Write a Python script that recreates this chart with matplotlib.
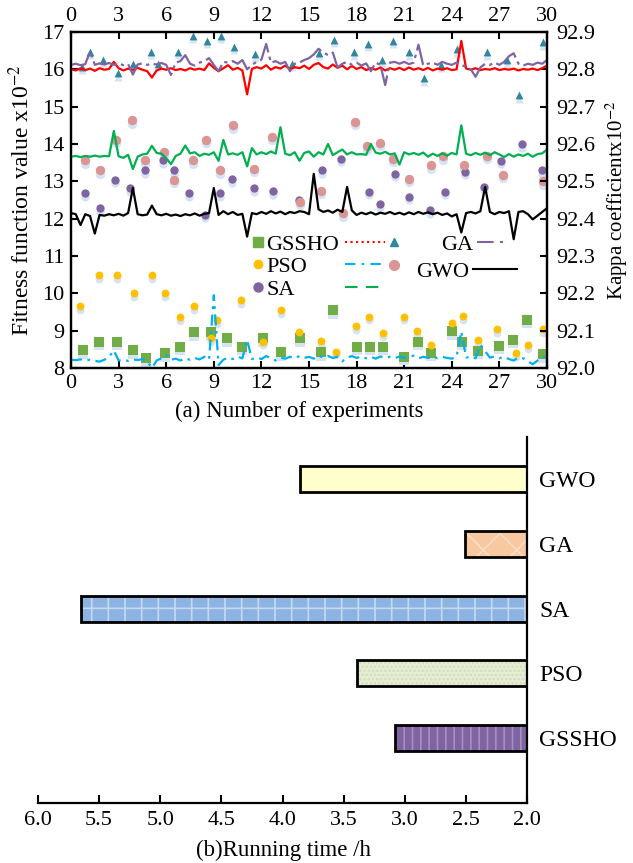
import numpy as np
import matplotlib
matplotlib.use("Agg")
import matplotlib.pyplot as plt
from matplotlib.lines import Line2D
from matplotlib.transforms import offset_copy

plt.rcParams['font.family'] = 'Liberation Serif'
plt.rcParams['mathtext.fontset'] = 'stix'
plt.rcParams['hatch.linewidth'] = 1.2

# ---- (a) fitness scatter (left axis, x10^-2) ----
gssho_x = [0.74, 1.78, 2.88, 3.93, 4.7, 5.92, 6.87, 7.75, 8.8, 9.81, 10.75, 12.12, 13.21, 14.43, 15.75,
           16.49, 18.0, 18.84, 19.68, 21.0, 21.84, 22.66, 23.99, 24.66, 25.63, 27.0, 27.87, 28.73, 29.76]
gssho_fit = [8.48, 8.7, 8.7, 8.48, 8.26, 8.39, 8.57, 8.96, 8.96, 8.8, 8.57, 8.8, 8.42, 8.8, 8.42,
             9.55, 8.57, 8.57, 8.57, 8.3, 8.7, 8.41, 8.99, 8.7, 8.46, 8.6, 8.75, 9.29, 8.37]

pso_x = [0.57, 1.74, 2.88, 3.97, 5.08, 5.9, 6.87, 7.77, 8.8, 9.22, 10.73, 12.12, 13.21, 14.4, 15.75,
         16.68, 17.94, 18.8, 19.64, 21.0, 21.82, 22.66, 23.99, 24.68, 25.67, 26.86, 28.02, 28.78, 29.76]
pso_fit = [9.66, 10.49, 10.49, 10.0, 10.49, 10.0, 9.36, 9.66, 8.8, 9.28, 9.82, 8.7, 9.55, 8.96, 8.72,
           8.44, 9.12, 9.37, 8.93, 9.37, 8.99, 8.61, 9.2, 9.39, 8.75, 9.04, 8.39, 8.61, 9.04]

sa_x = [0.88, 1.83, 2.77, 3.71, 4.66, 5.82, 6.49, 7.45, 8.44, 9.39, 10.12, 11.53, 12.75, 14.39,
        15.8, 17.0, 18.8, 19.45, 20.4, 21.3, 22.6, 23.57, 24.83, 26.0, 27.1, 28.4, 29.7]
sa_fit = [12.68, 12.28, 13.04, 12.82, 13.3, 13.57, 13.3, 12.68, 12.1, 12.68, 13.05, 12.82, 12.73, 12.5,
          13.3, 13.6, 12.72, 12.38, 13.2, 12.59, 12.23, 12.72, 13.25, 12.86, 13.55, 13.99, 13.3]

ga_x = [0.67, 1.2, 2.04, 2.96, 3.9, 5.02, 5.5, 6.72, 7.66, 8.55, 9.43, 10.3, 11.6, 13.9, 15.6,
        16.57, 17.83, 18.7, 19.57, 20.27, 21.28, 22.27, 23.3, 24.3, 26.2, 27.45, 28.23, 29.72]
ga_fit = [16.07, 16.47, 16.25, 15.89, 16.15, 16.47, 16.15, 16.47, 16.9, 16.77, 16.9, 16.6, 16.4, 16.15, 16.45,
          16.79, 16.46, 16.68, 16.25, 16.77, 16.46, 15.76, 16.12, 16.54, 16.46, 16.24, 15.31, 16.73]

gwo_x = [0.88, 1.83, 2.84, 3.82, 4.66, 5.86, 6.51, 7.71, 8.51, 9.39, 10.19, 11.53, 12.64, 14.43,
         15.75, 17.16, 17.9, 18.63, 19.47, 20.3, 21.3, 22.66, 23.46, 24.76, 26.2, 27.2, 29.76]
gwo_fit = [13.57, 13.3, 14.11, 14.64, 13.57, 13.78, 13.04, 13.57, 14.11, 13.3, 14.5, 13.34, 14.2, 12.45,
           12.75, 12.15, 14.6, 13.94, 14.03, 13.6, 13.07, 13.43, 13.67, 13.43, 13.69, 13.18, 13.0]

# ---- (a) kappa curves (right axis, x10^-2), 101 samples over 0..30 ----
gssho_kappa = [
    92.800, 92.797, 92.803, 92.798, 92.802, 92.796, 92.803, 92.799, 92.801, 92.820,
    92.803, 92.797, 92.802, 92.798, 92.804, 92.799, 92.795, 92.778, 92.797, 92.802,
    92.799, 92.803, 92.798, 92.801, 92.797, 92.803, 92.799, 92.802, 92.798, 92.816,
    92.804, 92.795, 92.803, 92.811, 92.799, 92.804, 92.797, 92.733, 92.801, 92.806,
    92.802, 92.811, 92.799, 92.806, 92.802, 92.810, 92.800, 92.806, 92.803, 92.810,
    92.801, 92.812, 92.817, 92.806, 92.802, 92.813, 92.804, 92.810, 92.800, 92.809,
    92.801, 92.806, 92.798, 92.803, 92.799, 92.805, 92.797, 92.803, 92.799, 92.804,
    92.798, 92.805, 92.799, 92.803, 92.798, 92.804, 92.797, 92.802, 92.799, 92.803,
    92.798, 92.800, 92.876, 92.802, 92.799, 92.803, 92.798, 92.801, 92.799, 92.803,
    92.798, 92.801, 92.799, 92.802, 92.797, 92.801, 92.799, 92.802, 92.798, 92.803, 92.810]

pso_kappa = [
    92.022, 92.021, 92.023, 92.020, 92.022, 92.019, 92.017, 92.022, 92.030, 92.047,
    92.020, 92.022, 92.019, 92.023, 92.021, 92.024, 92.018, 92.000, 92.020, 92.026,
    92.035, 92.022, 92.025, 92.020, 92.026, 92.022, 92.027, 92.023, 92.030, 92.022,
    92.195, 92.008, 92.022, 92.028, 92.024, 92.030, 92.026, 92.075, 92.024, 92.028,
    92.024, 92.032, 92.026, 92.020, 92.028, 92.025, 92.030, 92.026, 92.032, 92.027,
    92.030, 92.025, 92.033, 92.028, 92.032, 92.027, 92.030, 92.018, 92.028, 92.032,
    92.027, 92.031, 92.026, 92.030, 92.025, 92.031, 92.027, 92.030, 92.026, 92.031,
    92.027, 92.030, 92.033, 92.026, 92.030, 92.027, 92.031, 92.026, 92.030, 92.027,
    92.025, 92.030, 92.098, 92.028, 92.030, 92.026, 92.062, 92.045, 92.028, 92.031,
    92.026, 92.030, 92.024, 92.020, 92.028, 92.026, 92.018, 92.010, 92.020, 92.028, 92.032]

sa_kappa = [
    92.566, 92.568, 92.565, 92.568, 92.566, 92.569, 92.566, 92.568, 92.567, 92.635,
    92.567, 92.563, 92.571, 92.533, 92.566, 92.572, 92.574, 92.595, 92.576, 92.574,
    92.562, 92.546, 92.568, 92.574, 92.596, 92.575, 92.578, 92.568, 92.574, 92.571,
    92.578, 92.555, 92.611, 92.572, 92.575, 92.571, 92.578, 92.540, 92.589, 92.572,
    92.578, 92.573, 92.580, 92.574, 92.645, 92.574, 92.570, 92.578, 92.555, 92.576,
    92.580, 92.566, 92.578, 92.572, 92.600, 92.570, 92.578, 92.585, 92.572, 92.578,
    92.572, 92.573, 92.571, 92.600, 92.577, 92.574, 92.579, 92.572, 92.575, 92.545,
    92.578, 92.572, 92.576, 92.571, 92.577, 92.566, 92.574, 92.568, 92.575, 92.569,
    92.576, 92.572, 92.650, 92.574, 92.570, 92.576, 92.571, 92.577, 92.570, 92.578,
    92.572, 92.565, 92.573, 92.566, 92.572, 92.568, 92.574, 92.566, 92.573, 92.575, 92.585]

ga_kappa = [
    92.812, 92.815, 92.811, 92.814, 92.848, 92.812, 92.816, 92.813, 92.817, 92.812,
    92.816, 92.811, 92.814, 92.786, 92.813, 92.816, 92.812, 92.815, 92.813, 92.817,
    92.812, 92.785, 92.818, 92.822, 92.838, 92.815, 92.810, 92.818, 92.822, 92.830,
    92.812, 92.795, 92.820, 92.818, 92.822, 92.815, 92.825, 92.800, 92.812, 92.820,
    92.826, 92.868, 92.818, 92.822, 92.815, 92.820, 92.795, 92.815, 92.818, 92.825,
    92.830, 92.840, 92.855, 92.845, 92.838, 92.845, 92.805, 92.815, 92.820, 92.812,
    92.818, 92.810, 92.816, 92.795, 92.818, 92.812, 92.758, 92.818, 92.820, 92.815,
    92.820, 92.814, 92.818, 92.866, 92.810, 92.815, 92.818, 92.812, 92.820, 92.815,
    92.812, 92.818, 92.812, 92.806, 92.800, 92.780, 92.805, 92.815, 92.812, 92.818,
    92.812, 92.820, 92.835, 92.843, 92.815, 92.810, 92.815, 92.812, 92.818, 92.815, 92.825]

gwo_kappa = [
    92.415, 92.412, 92.383, 92.412, 92.407, 92.360, 92.410, 92.408, 92.412, 92.409,
    92.413, 92.408, 92.415, 92.482, 92.412, 92.409, 92.411, 92.435, 92.412, 92.409,
    92.413, 92.408, 92.411, 92.407, 92.412, 92.409, 92.414, 92.408, 92.413, 92.415,
    92.482, 92.410, 92.420, 92.412, 92.418, 92.410, 92.413, 92.352, 92.415, 92.412,
    92.418, 92.413, 92.420, 92.414, 92.419, 92.412, 92.418, 92.415, 92.420, 92.418,
    92.412, 92.520, 92.425, 92.418, 92.422, 92.416, 92.424, 92.418, 92.485, 92.422,
    92.410, 92.416, 92.412, 92.417, 92.411, 92.416, 92.413, 92.418, 92.412, 92.416,
    92.411, 92.417, 92.412, 92.418, 92.413, 92.417, 92.412, 92.416, 92.410, 92.414,
    92.406, 92.412, 92.363, 92.415, 92.418, 92.414, 92.420, 92.485, 92.418, 92.412,
    92.418, 92.415, 92.420, 92.345, 92.418, 92.420, 92.412, 92.398, 92.408, 92.418, 92.428]

# ---- (b) running time ----
algorithms = ['GSSHO', 'PSO', 'SA', 'GA', 'GWO']
run_time = [3.08, 3.39, 5.65, 2.51, 3.86]

W, H = 633, 863
fig = plt.figure(figsize=(W / 100, H / 100), dpi=100)


def fig_box(x0, y0, x1, y1):
    return [x0 / W, 1 - y1 / H, (x1 - x0) / W, (y1 - y0) / H]


ax = fig.add_axes(fig_box(71, 32, 547, 368))
ax2 = ax.twinx()

shadow = offset_copy(ax.transData, fig=fig, x=0, y=-3.5, units='dots')
marker_sets = [
    (gssho_x, gssho_fit, 's', 44, '#70AD47'),
    (pso_x, pso_fit, 'o', 32, '#FFC000'),
    (sa_x, sa_fit, 'o', 36, '#8064A2'),
    (ga_x, ga_fit, '^', 32, '#31859C'),
    (gwo_x, gwo_fit, 'o', 46, '#D99694'),
]
for xs, ys, mk, s, c in marker_sets:
    ax.scatter(xs, ys, marker=mk, s=s, color='#D5E3F3', lw=0, transform=shadow, zorder=2)
    ax.scatter(xs, ys, marker=mk, s=s, color=c, lw=0, zorder=3)

t = np.linspace(0, 30, len(gssho_kappa))
ax2.plot(t, gssho_kappa, color='#FF0000', lw=1.6)
ax2.plot(t, pso_kappa, color='#00B0F0', lw=1.6, dashes=(5, 2.5, 1.2, 2.5))
ax2.plot(t, sa_kappa, color='#00B050', lw=1.6)
ax2.plot(t, ga_kappa, color='#8064A2', lw=1.6, dashes=(12, 2, 1.5, 2))
ax2.plot(t, gwo_kappa, color='black', lw=1.6)

ax.set_xlim(0, 30)
ax.set_ylim(8, 17)
ax2.set_ylim(92.0, 92.9)
ax.set_xticks(np.arange(0, 31, 3))
ax.set_yticks(np.arange(8, 18, 1))
ax2.set_yticks(np.arange(92.0, 92.95, 0.1))
ax2.set_yticklabels(['%.1f' % v for v in np.arange(92.0, 92.95, 0.1)])
ax.tick_params(axis='x', direction='in', top=True, labeltop=True, length=5, width=1.5,
               labelsize=16, pad=4)
ax.tick_params(axis='y', direction='in', length=5, width=1.5, labelsize=16, pad=5)
ax2.tick_params(axis='y', direction='in', length=5, width=1.5, labelsize=16, pad=7)
for a in (ax, ax2):
    for sp in a.spines.values():
        sp.set_linewidth(1.6)

ax.set_ylabel('Fitness function value x10$^{-2}$', fontsize=17)
ax.yaxis.set_label_coords(-0.078, 0.5)
ax2.set_ylabel('Kappa coefficientx10$^{-2}$', fontsize=15)
ax2.yaxis.set_label_coords(1.118, 0.5)
ax.set_xlabel('(a) Number of experiments', fontsize=16.5)
ax.xaxis.set_label_coords(0.48, -0.097)

# legend, laid out in blocks
leg_kw = dict(frameon=False, fontsize=16, borderpad=0, borderaxespad=0, labelspacing=0.08,
              bbox_transform=fig.transFigure, handletextpad=0.15)
mk_handles = [Line2D([], [], ls='none', marker='s', ms=7, color='#70AD47'),
              Line2D([], [], ls='none', marker='o', ms=6, color='#FFC000'),
              Line2D([], [], ls='none', marker='o', ms=6.5, color='#8064A2')]
legA = ax2.legend(mk_handles, ['GSSHO', 'PSO', 'SA'], loc='center left',
                  bbox_to_anchor=(252 / W, 1 - 267 / H), handlelength=0.5, **leg_kw)
ax2.add_artist(legA)
ln_handles = [Line2D([], [], color='#FF0000', lw=1.5, ls=':'),
              Line2D([], [], color='#00B0F0', lw=1.5, dashes=(5, 3, 1.2, 3)),
              Line2D([], [], color='#00B050', lw=1.5, dashes=(6, 4))]
legB = ax2.legend(ln_handles, ['', '', ''], loc='center left',
                  bbox_to_anchor=(345 / W, 1 - 267 / H), handlelength=1.8, **leg_kw)
ax2.add_artist(legB)
mk2_handles = [Line2D([], [], ls='none', marker='^', ms=6, color='#31859C'),
               Line2D([], [], ls='none', marker='o', ms=7, color='#D99694')]
legC = ax2.legend(mk2_handles, ['', ''], loc='center left',
                  bbox_to_anchor=(387 / W, 1 - 256 / H), handlelength=0.6, **leg_kw)
ax2.add_artist(legC)
legD = ax2.legend([Line2D([], [], color='#8064A2', lw=1.5, dashes=(8, 3, 1.5, 3))], ['GA'],
                  loc='center right', bbox_to_anchor=(508 / W, 1 - 245 / H), handlelength=1.4,
                  markerfirst=False, **leg_kw)
ax2.add_artist(legD)
ax2.legend([Line2D([], [], color='black', lw=1.5)], ['GWO'],
           loc='center right', bbox_to_anchor=(517 / W, 1 - 272 / H), handlelength=2.0,
           markerfirst=False, **leg_kw)

# ---- (b) bar chart ----
axb = fig.add_axes(fig_box(38, 437, 527, 803))
face = ['#8064A2', '#E6EDD5', '#8DB3E2', '#F8C8A0', '#FFFFCC']
hatch_col = ['#A58FC4', '#D3DDB8', '#C6D9F1', '#FBDDC6', '#FFFFCC']
hatches = ['||', '....', '+', 'x', '']
pos = np.arange(len(algorithms))
for i in range(len(algorithms)):
    axb.barh(pos[i], run_time[i] - 2.0, left=2.0, height=0.4, color=face[i],
             edgecolor=hatch_col[i], hatch=hatches[i], lw=0, zorder=2)
axb.barh(pos, np.array(run_time) - 2.0, left=2.0, height=0.4, fill=False,
         edgecolor='black', lw=2, zorder=3)
axb.set_xlim(6.0, 2.0)
axb.set_ylim(-1, 4.65)
axb.set_xticks(np.arange(2.0, 6.01, 0.5))
axb.set_xticklabels(['%.1f' % v for v in np.arange(2.0, 6.01, 0.5)])
axb.yaxis.tick_right()
axb.set_yticks(pos)
axb.set_yticklabels(algorithms)
axb.tick_params(axis='y', length=0, pad=9, labelsize=17)
axb.tick_params(axis='x', direction='in', length=6, width=1.5, labelsize=16, pad=6)
axb.spines['left'].set_visible(False)
axb.spines['top'].set_visible(False)
axb.spines['right'].set_linewidth(1.6)
axb.spines['bottom'].set_linewidth(1.6)
axb.set_xlabel('(b)Running time /h', fontsize=16.5)
axb.xaxis.set_label_coords(0.503, -0.101)

fig.savefig('out.png', dpi=100)
